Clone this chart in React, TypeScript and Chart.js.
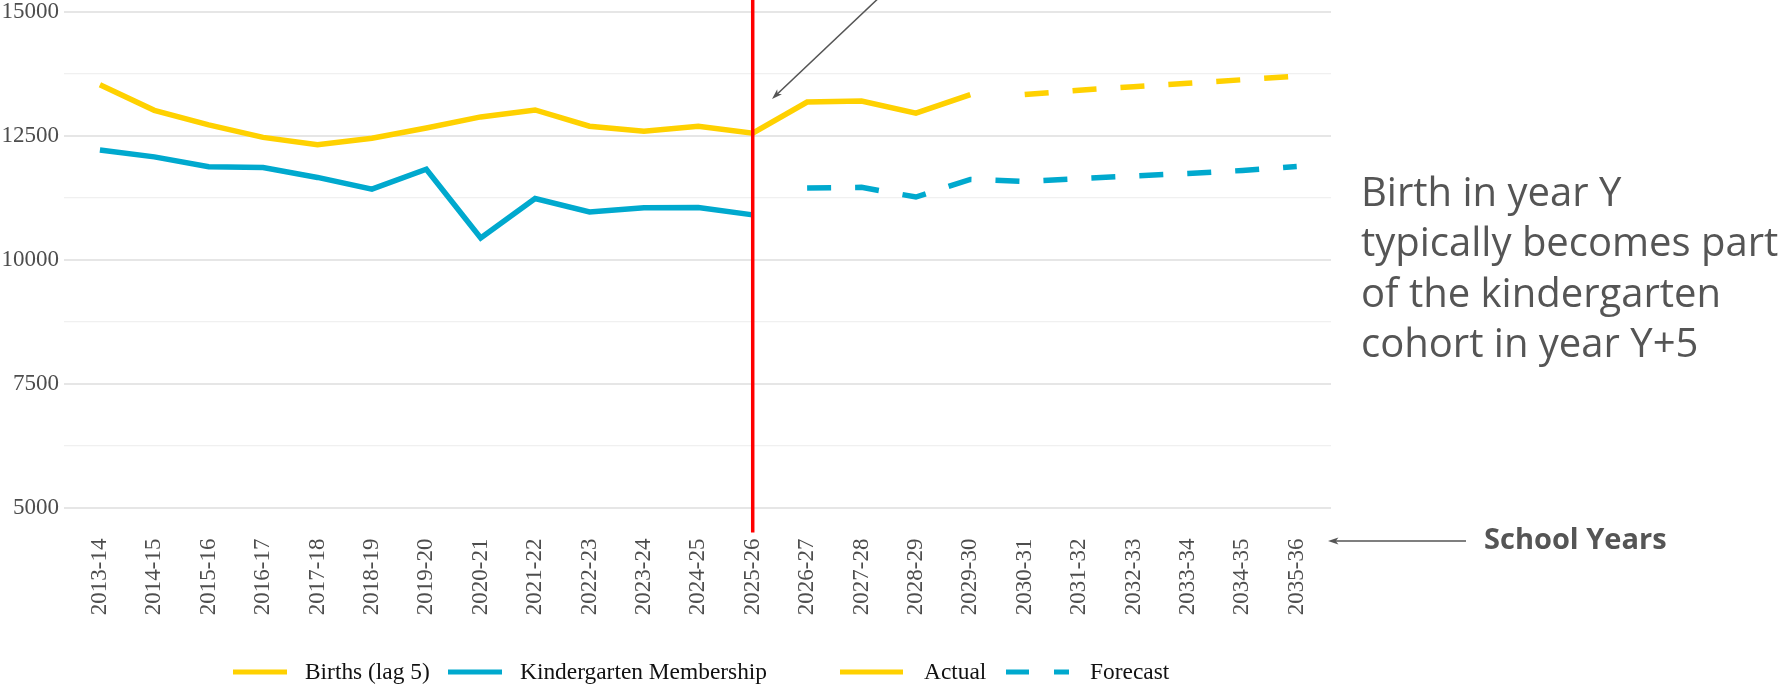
import React, { useEffect, useRef } from 'react';
import { Chart, registerables } from 'chart.js';

Chart.register(...registerables);

// ---------- data ----------
const schoolYears = [
  '2013-14', '2014-15', '2015-16', '2016-17', '2017-18', '2018-19', '2019-20', '2020-21',
  '2021-22', '2022-23', '2023-24', '2024-25', '2025-26', '2026-27', '2027-28', '2028-29',
  '2029-30', '2030-31', '2031-32', '2032-33', '2033-34', '2034-35', '2035-36',
];

const birthsActual = [
  13530, 13013, 12720, 12468, 12318, 12450, 12658, 12880, 13020, 12692, 12592, 12692,
  12553, 13180, 13200, 12955, 13330, null, null, null, null, null, null,
];

const birthsForecast = [
  null, null, null, null, null, null, null, null, null, null, null, null,
  null, null, null, null, null, 13330, 13420, 13490, 13560, 13630, 13700,
];

const kinderActual = [
  12215, 12075, 11875, 11860, 11660, 11425, 11825, 10440, 11235, 10965, 11050, 11052,
  10905, null, null, null, null, null, null, null, null, null, null,
];

const kinderForecast = [
  null, null, null, null, null, null, null, null, null, null, null, null,
  null, 11445, 11460, 11265, 11620, 11580, 11635, 11690, 11740, 11800, 11880,
];

const yMin = 4500;
const yMax = 15500;
const yMajorTicks = [5000, 7500, 10000, 12500, 15000];
const yMinorTicks = [6250, 8750, 11250, 13750];
const cutoffYear = '2025-26';

const seriesLegend = ['Births (lag 5)', 'Kindergarten Membership'];
const typeLegend = ['Actual', 'Forecast'];
const noteLines = ['Birth in year Y', 'typically becomes part', 'of the kindergarten', 'cohort in year Y+5'];
const axisNote = 'School Years';

// ---------- style ----------
const YELLOW = '#FFD100';
const BLUE = '#00A9CE';
const RED = '#FF0000';
const NOTE = '#555555';
const SERIF = '"Liberation Serif", "Times New Roman", serif';
const SANS = '"Open Sans", "Noto Sans", sans-serif';
const SHIFT = 60; // canvas is shifted up so the top of the plot is cropped like the reference
const LINE_W = 5.5;

const toPoints = (arr: (number | null)[]) => arr.map((v, i) => ({ x: i, y: v }));

function arrow(ctx: CanvasRenderingContext2D, x1: number, y1: number, x2: number, y2: number) {
  const ang = Math.atan2(y2 - y1, x2 - x1);
  const len = 11;
  const half = 0.32;
  ctx.beginPath();
  ctx.moveTo(x1, y1);
  ctx.lineTo(x2 - Math.cos(ang) * 4, y2 - Math.sin(ang) * 4);
  ctx.stroke();
  ctx.beginPath();
  ctx.moveTo(x2, y2);
  ctx.lineTo(x2 - len * Math.cos(ang - half), y2 - len * Math.sin(ang - half));
  ctx.lineTo(x2 - len * 0.7 * Math.cos(ang), y2 - len * 0.7 * Math.sin(ang));
  ctx.lineTo(x2 - len * Math.cos(ang + half), y2 - len * Math.sin(ang + half));
  ctx.closePath();
  ctx.fill();
}

const overlayPlugin = {
  id: 'overlay',
  afterDatasetsDraw(chart: any) {
    const { ctx, chartArea, scales } = chart;
    const x = scales.x.getPixelForValue(schoolYears.indexOf(cutoffYear));
    ctx.save();
    ctx.strokeStyle = RED;
    ctx.lineWidth = 3.5;
    ctx.beginPath();
    ctx.moveTo(x, 0);
    ctx.lineTo(x, chartArea.bottom);
    ctx.stroke();
    ctx.restore();
  },
  afterDraw(chart: any) {
    const { ctx } = chart;
    ctx.save();

    // annotation arrow pointing at the cutoff
    ctx.strokeStyle = NOTE;
    ctx.fillStyle = NOTE;
    ctx.lineWidth = 1.6;
    arrow(ctx, 940, 0, 772, 159);

    // "School Years" arrow
    arrow(ctx, 1466, 601, 1328, 601);

    // right note
    ctx.fillStyle = NOTE;
    ctx.textAlign = 'left';
    ctx.textBaseline = 'alphabetic';
    ctx.font = `400 40px ${SANS}`;
    const baselines = [266, 316, 367, 417];
    noteLines.forEach((t, i) => ctx.fillText(t, 1361, baselines[i]));

    ctx.font = `700 29px ${SANS}`;
    ctx.fillText(axisNote, 1484, 609);

    // legend
    const ly = 732;
    ctx.lineWidth = 5;
    ctx.lineCap = 'butt';
    const key = (x1: number, x2: number, color: string, dash: number[]) => {
      ctx.strokeStyle = color;
      ctx.setLineDash(dash);
      ctx.beginPath();
      ctx.moveTo(x1, ly);
      ctx.lineTo(x2, ly);
      ctx.stroke();
      ctx.setLineDash([]);
    };
    key(233, 287, YELLOW, []);
    key(448, 502, BLUE, []);
    key(840, 903, YELLOW, []);
    key(1006, 1069, BLUE, [23, 25]);

    ctx.fillStyle = '#111111';
    ctx.font = `400 23.4px ${SERIF}`;
    ctx.textBaseline = 'alphabetic';
    ctx.fillText(seriesLegend[0], 305, 739);
    ctx.fillText(seriesLegend[1], 520, 739);
    ctx.fillText(typeLegend[0], 924, 739);
    ctx.fillText(typeLegend[1], 1090, 739);

    ctx.restore();
  },
};

export default function App() {
  const ref = useRef<HTMLCanvasElement | null>(null);

  useEffect(() => {
    if (!ref.current) return;
    const yTickValues = [...yMajorTicks, ...yMinorTicks].sort((a, b) => a - b);
    const chart = new Chart(ref.current, {
      type: 'line',
      data: {
        datasets: [
          {
            label: 'Births actual',
            data: toPoints(birthsActual),
            borderColor: YELLOW,
            borderWidth: LINE_W,
            pointRadius: 0,
            tension: 0,
            spanGaps: false,
          },
          {
            label: 'Births forecast',
            data: toPoints(birthsForecast),
            borderColor: YELLOW,
            borderWidth: LINE_W,
            borderDash: [24, 24],
            pointRadius: 0,
            tension: 0,
            spanGaps: false,
          },
          {
            label: 'Kindergarten actual',
            data: toPoints(kinderActual),
            borderColor: BLUE,
            borderWidth: LINE_W,
            pointRadius: 0,
            tension: 0,
            spanGaps: false,
          },
          {
            label: 'Kindergarten forecast',
            data: toPoints(kinderForecast),
            borderColor: BLUE,
            borderWidth: LINE_W,
            borderDash: [24, 24],
            pointRadius: 0,
            tension: 0,
            spanGaps: false,
          },
        ],
      },
      options: {
        responsive: false,
        animation: false,
        events: [],
        layout: { padding: { left: 0, right: 450, top: 47, bottom: 55.5 } },
        plugins: {
          legend: { display: false },
          title: { display: false },
          tooltip: { enabled: false },
        },
        scales: {
          x: {
            type: 'linear',
            min: -0.66,
            max: schoolYears.length - 1 + 0.63,
            afterBuildTicks: (s: any) => {
              s.ticks = schoolYears.map((_, i) => ({ value: i }));
            },
            afterFit: (s: any) => { s.height = 100; },
            border: { display: false },
            grid: { display: false, drawTicks: false },
            ticks: {
              autoSkip: false,
              minRotation: 90,
              maxRotation: 90,
              padding: 6,
              color: '#4D4D4D',
              font: { family: SERIF, size: 23 },
              callback: (v: any) => schoolYears[Math.round(v)] ?? '',
            },
          },
          y: {
            type: 'linear',
            min: yMin,
            max: yMax,
            afterBuildTicks: (s: any) => {
              s.ticks = yTickValues.map((v) => ({ value: v }));
            },
            afterFit: (s: any) => { s.width = 64; },
            border: { display: false },
            grid: {
              drawTicks: false,
              color: (c: any) => (yMajorTicks.includes(c.tick?.value) ? '#E6E6E6' : '#F0F0F0'),
              lineWidth: (c: any) => (yMajorTicks.includes(c.tick?.value) ? 2 : 1.2),
            },
            ticks: {
              autoSkip: false,
              padding: 5,
              color: '#4D4D4D',
              font: { family: SERIF, size: 23 },
              callback: (v: any) => (yMajorTicks.includes(v) ? String(v) : ''),
            },
          },
        },
      },
      plugins: [overlayPlugin],
    });
    return () => chart.destroy();
  }, []);

  return (
    <div
      style={{
        position: 'fixed',
        left: 0,
        top: 0,
        width: 1781,
        height: 688,
        overflow: 'hidden',
        background: '#ffffff',
      }}
    >
      <canvas
        ref={ref}
        width={1781}
        height={748}
        style={{ position: 'absolute', left: 0, top: -SHIFT, width: 1781, height: 748 }}
      />
    </div>
  );
}
